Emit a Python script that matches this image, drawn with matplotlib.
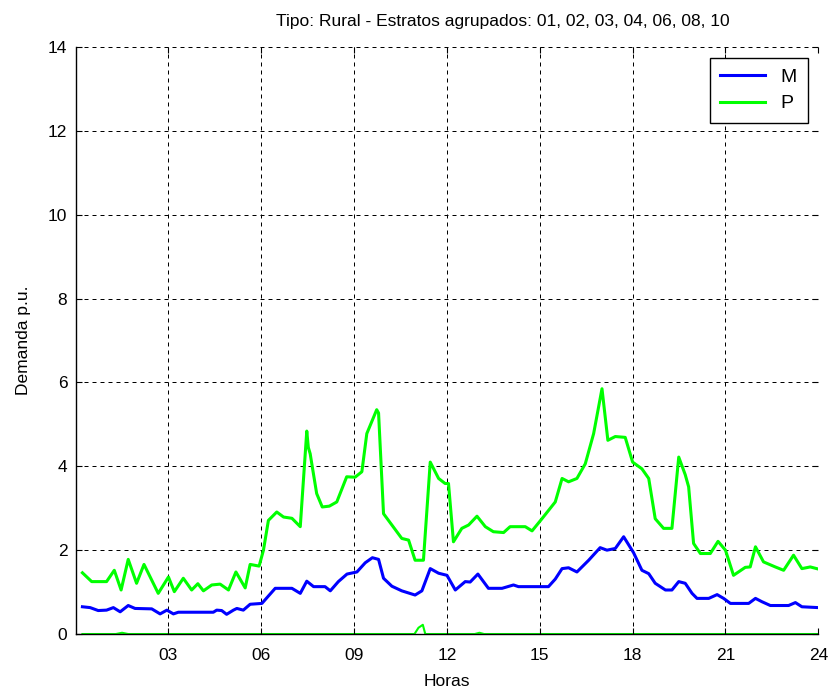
import matplotlib
matplotlib.use("Agg")
import matplotlib.pyplot as plt

plt.rcParams['font.family'] = ['Liberation Sans', 'DejaVu Sans']

# Hourly demand curves (p.u.), vertices
horas_m = [0.22, 0.47, 0.73, 1.0, 1.22, 1.44, 1.7, 1.92, 2.46, 2.73, 2.95, 3.16, 3.32,
           4.45, 4.56, 4.72, 4.88, 5.1, 5.21, 5.42, 5.64, 6.02, 6.45, 6.99, 7.26, 7.47,
           7.69, 8.06, 8.23, 8.49, 8.77, 9.09, 9.36, 9.59, 9.79, 9.95, 10.22, 10.54,
           10.97, 11.19, 11.46, 11.73, 12.0, 12.27, 12.59, 12.75, 13.0, 13.34, 13.78,
           14.15, 14.31, 15.28, 15.5, 15.72, 15.93, 16.2, 16.58, 16.95, 17.17, 17.44,
           17.71, 18.03, 18.3, 18.52, 18.73, 19.06, 19.27, 19.49, 19.7, 19.92, 20.08,
           20.46, 20.73, 20.94, 21.16, 21.75, 21.97, 22.18, 22.45, 23.04, 23.26, 23.47, 24.0]
demanda_m = [0.65, 0.63, 0.56, 0.57, 0.63, 0.53, 0.68, 0.61, 0.6, 0.48, 0.57, 0.48, 0.52,
             0.52, 0.57, 0.56, 0.47, 0.57, 0.61, 0.57, 0.71, 0.73, 1.09, 1.09, 0.97, 1.26,
             1.13, 1.13, 1.03, 1.25, 1.43, 1.48, 1.7, 1.82, 1.78, 1.33, 1.14, 1.03,
             0.93, 1.03, 1.56, 1.45, 1.4, 1.05, 1.25, 1.24, 1.43, 1.09, 1.09,
             1.17, 1.13, 1.13, 1.31, 1.56, 1.58, 1.48, 1.76, 2.06, 2.0, 2.04,
             2.32, 1.94, 1.52, 1.44, 1.21, 1.05, 1.05, 1.25, 1.21, 0.97, 0.85,
             0.85, 0.94, 0.85, 0.73, 0.73, 0.85, 0.77, 0.68, 0.68, 0.75, 0.65, 0.63]

horas_p = [0.22, 0.52, 1.0, 1.25, 1.47, 1.7, 1.97, 2.21, 2.67, 3.0, 3.19, 3.48, 3.75,
           3.95, 4.13, 4.4, 4.67, 4.94, 5.18, 5.48, 5.64, 5.93, 6.07, 6.23, 6.5, 6.72,
           6.99, 7.26, 7.31, 7.47, 7.52, 7.58, 7.65, 7.79, 7.97, 8.2, 8.44, 8.76, 9.03,
           9.25, 9.41, 9.73, 9.79, 9.95, 10.54, 10.76, 10.97, 11.24, 11.46, 11.73,
           11.94, 12.05, 12.21, 12.48, 12.7, 12.97, 13.24, 13.5, 13.83, 14.04, 14.53,
           14.75, 15.07, 15.5, 15.72, 15.93, 16.2, 16.47, 16.74, 17.01, 17.2, 17.44,
           17.76, 18.0, 18.3, 18.52, 18.73, 19.0, 19.27, 19.49, 19.7, 19.81, 19.97,
           20.19, 20.51, 20.76, 21.0, 21.26, 21.64, 21.8, 21.97, 22.23, 22.61, 22.88,
           23.2, 23.47, 23.74, 24.0]
demanda_p = [1.46, 1.25, 1.25, 1.52, 1.05, 1.78, 1.21, 1.66, 0.97, 1.36, 1.01, 1.33, 1.05,
             1.2, 1.03, 1.17, 1.19, 1.05, 1.48, 1.1, 1.66, 1.62, 2.0, 2.71, 2.91, 2.79,
             2.76, 2.56, 3.11, 4.84, 4.45, 4.3, 3.98, 3.35, 3.03, 3.05, 3.15, 3.75, 3.74,
             3.87, 4.78, 5.35, 5.27, 2.87, 2.28, 2.24, 1.76, 1.76, 4.1, 3.71,
             3.59, 3.59, 2.2, 2.52, 2.6, 2.81, 2.56, 2.44, 2.42, 2.56, 2.56,
             2.46, 2.75, 3.15, 3.71, 3.63, 3.71, 4.06, 4.78, 5.85, 4.62, 4.71,
             4.69, 4.1, 3.94, 3.71, 2.75, 2.52, 2.52, 4.22, 3.8, 3.51, 2.16,
             1.92, 1.92, 2.21, 2.0, 1.4, 1.59, 1.6, 2.08, 1.72, 1.6, 1.52,
             1.88, 1.56, 1.6, 1.55]

# extra green curve that sits on the zero line
horas_z = [0.22, 1.3, 1.5, 1.7, 10.95, 11.08, 11.22, 11.3, 12.9, 13.05, 13.2, 24.0]
demanda_z = [0, 0, 0.03, 0, 0, 0.15, 0.22, 0, 0, 0.03, 0, 0]

fig = plt.figure(figsize=(8.3, 6.93), dpi=100)
ax = fig.add_axes([0.0911, 0.0851, 0.8948, 0.8471])

ax.plot(horas_m, demanda_m, color=(0, 0, 1), linewidth=2.2, label='M')
ax.plot(horas_p, demanda_p, color=(0, 1, 0), linewidth=2.2, label='P')
ax.plot(horas_z, demanda_z, color=(0, 1, 0), linewidth=1.5, zorder=1)

ax.set_xlim(0, 24)
ax.set_ylim(0, 14)
ax.set_xticks(range(3, 25, 3))
ax.set_xticklabels(['%02d' % h for h in range(3, 25, 3)])
ax.set_yticks(range(0, 15, 2))

ax.grid(True, color='black', linestyle=(0, (4, 4)), linewidth=0.72)
ax.spines['top'].set_visible(False)
ax.spines['right'].set_visible(False)
ax.spines['left'].set_linewidth(1.0)
ax.spines['bottom'].set_linewidth(1.0)
ax.spines['bottom'].set_zorder(3)
ax.tick_params(direction='in', length=4.5, width=0.8, top=True, right=True,
               labelsize=12.5)
ax.tick_params(axis='x', pad=10)
ax.tick_params(axis='y', pad=6)

ax.set_title('Tipo: Rural - Estratos agrupados: 01, 02, 03, 04, 06, 08, 10',
             fontsize=12.5, x=0.575, y=1.0, pad=15)
ax.set_xlabel('Horas', fontsize=12.5, labelpad=8)
ax.set_ylabel('Demanda p.u.', fontsize=12.5, labelpad=12)

leg = ax.legend(loc='upper right', fontsize=14, fancybox=False, framealpha=1,
                edgecolor='black', handlelength=2.3, borderaxespad=0.55,
                labelspacing=0.45, handletextpad=0.8, borderpad=0.55)
leg.get_frame().set_linewidth(1.0)

fig.savefig('out.png', dpi=100)
